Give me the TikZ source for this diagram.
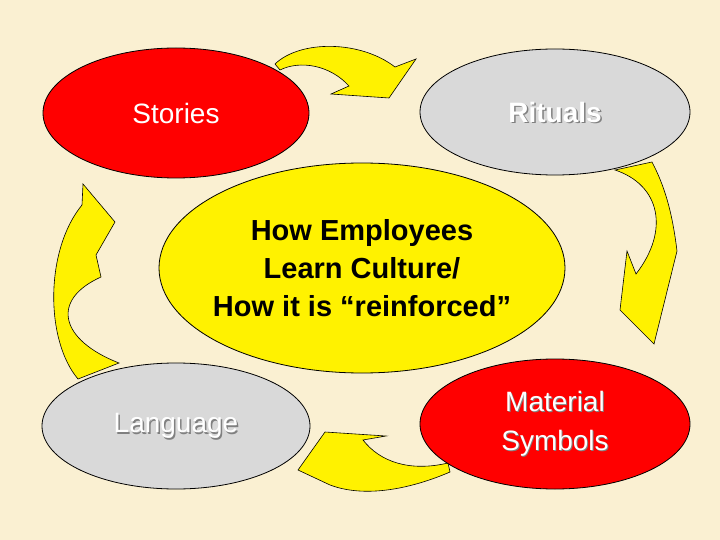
\documentclass[tikz,border=0pt]{standalone}
\usepackage{fontspec}
\setmainfont{Liberation Sans}
\usetikzlibrary{shapes.geometric}
\definecolor{bg}{HTML}{FAF0D2}
\definecolor{lgray}{HTML}{D9D9D9}
\definecolor{shad}{HTML}{808080}
\begin{document}
\begin{tikzpicture}[x=1pt,y=-1pt,
  ell/.style={ellipse,draw=black,line width=0.8pt,inner sep=0pt},
  arr/.style={fill=yellow,draw=black,line width=0.6pt},
  wt/.style={text=white,font=\bfseries\fontsize{28}{32}\selectfont,align=center},
  sh/.style={text=shad,font=\bfseries\fontsize{28}{32}\selectfont,align=center}]
\useasboundingbox[fill=bg] (0,0) rectangle (720,540);
% arrows
\draw[arr] (275,64) .. controls (300,40) and (360,40) .. (395,67) -- (416,59) -- (389,98) -- (331,94) -- (349,86) .. controls (330,65) and (300,60) .. (280,70) -- cycle;
\draw[arr] (615,170) .. controls (660,185) and (670,230) .. (636,274) -- (627,251) -- (620,310) -- (654,344) -- (677,251) .. controls (672,210) and (664,185) .. (652,162) -- cycle;
\draw[arr] (448,463) .. controls (410,472) and (380,462) .. (363,440) -- (386,436) -- (325,432) -- (298,470) -- (330,485) .. controls (370,500) and (420,485) .. (450,472) -- cycle;
\draw[arr] (119,363) .. controls (60,340) and (50,300) .. (101,277) -- (96,255) -- (115,222) -- (83,184) -- (82,205) .. controls (45,250) and (45,340) .. (78,379) -- cycle;
% ellipses
\node[ell,fill=red,minimum width=266,minimum height=130] (st) at (176,113) {};
\node[ell,fill=lgray,minimum width=270,minimum height=126] (ri) at (555,112) {};
\node[ell,fill=yellow,minimum width=406,minimum height=210] (ce) at (362,268) {};
\node[ell,fill=lgray,minimum width=268,minimum height=126] (la) at (176,426) {};
\node[ell,fill=red,minimum width=270,minimum height=130] (ma) at (555,424) {};
% texts
\node[wt,font=\fontsize{28}{32}\selectfont] (tst) at (st) {Stories};
\node[sh] at ([shift={(1.5,1.5)}]ri) {Rituals};
\node[wt] (tri) at (ri) {Rituals};
\node[font=\bfseries\fontsize{29}{38}\selectfont,align=center] (tce) at (ce) {How Employees\\Learn Culture/\\How it is “reinforced”};
\node[sh,font=\fontsize{28}{32}\selectfont] at ([shift={(1.5,1.5)}]la) {Language};
\node[wt,font=\fontsize{28}{32}\selectfont] (tla) at (la) {Language};
\node[sh,font=\fontsize{28}{39}\selectfont] at ([shift={(1,1)}]ma) {Material\\Symbols};
\node[wt,font=\fontsize{28}{39}\selectfont] (tma) at (ma) {Material\\Symbols};
\end{tikzpicture}
\end{document}
